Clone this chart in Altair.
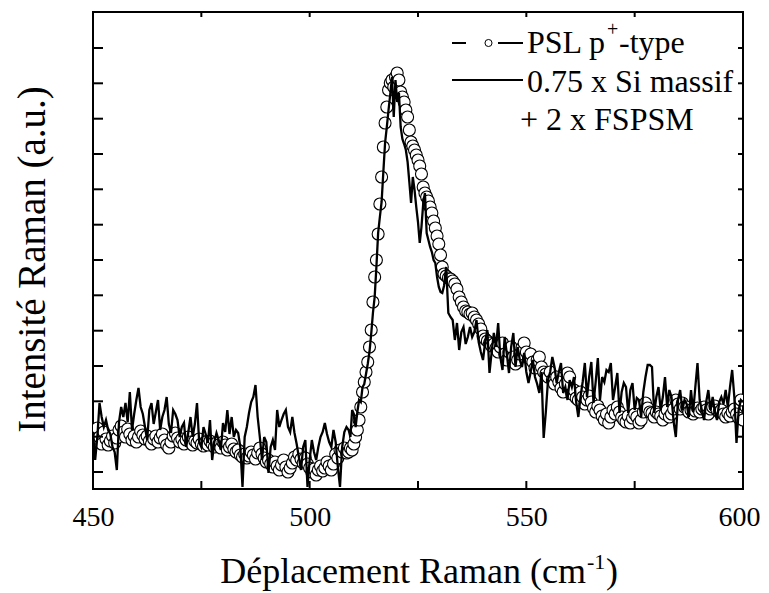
import altair as alt
import pandas as pd

# ---- data (intensity in arbitrary units) ----
# segment A: 450.0 .. 508.5 cm-1, step 0.5 ; segment B: 509.0 .. 531.0, step 0.4 ; segment C: 531.5 .. 600, step 0.5
psl_a = [30, 38, 44, 35, 28, 40, 33, 27, 31, 36,
         29, 34, 42, 46, 40, 35, 43, 38, 32, 36,
         30, 35, 41, 37, 33, 36, 31, 28, 33, 36,
         30, 34, 38, 32, 27, 24, 30, 36, 39, 34,
         30, 33, 28, 32, 35, 30, 27, 31, 29, 33,
         28, 26, 30, 27, 31, 28, 25, 29, 27, 24,
         30, 27, 22, 25, 28, 23, 20, 22, 17, 15,
         18, 14, 16, 20, 17, 13, 19, 24, 18, 14,
         10, 12, 8, 5, 10, 6, 2, 7, 12, 5,
         0, 4, 9, 15, 12, 18, 13, 9, 14, 8,
         4, 0, 3, -3, 2, 6, 1, 4, 10, 6,
         2, 8, 18, 14, 22, 20, 24, 19]
psl_b = [20, 24, 22, 28, 35, 42, 52, 65, 80, 90,
         100, 110, 125, 142, 170, 195, 212, 238, 268, 295,
         325, 349, 365, 382, 389, 392, 385, 395, 399, 392,
         380, 375, 370, 362, 355, 342, 330, 326, 322, 317,
         312, 306, 298, 285, 279, 275, 271, 265, 259, 251,
         244, 236, 228, 217, 205, 198]
psl_c = [196, 194, 193, 191, 188, 183, 175, 170,
         165, 161, 160, 158, 159, 155, 152, 148, 143, 136,
         133, 131, 129, 126, 128, 124, 120, 125, 129, 118,
         112, 120, 125, 115, 108, 112, 118, 124, 129, 120,
         114, 118, 110, 104, 112, 115, 105, 100, 98, 95,
         100, 92, 88, 95, 90, 84, 80, 88, 99, 95,
         78, 82, 74, 72, 80, 75, 68, 72, 76, 70,
         64, 60, 66, 62, 56, 52, 58, 49, 55, 62,
         58, 65, 60, 55, 52, 50, 56, 49, 54, 58,
         55, 49, 52, 60, 69, 64, 60, 59, 55, 60,
         58, 56, 52, 58, 62, 55, 58, 63, 72, 68,
         63, 69, 65, 65, 60, 62, 58, 61, 64, 60,
         63, 65, 62, 58, 63, 65, 66, 62, 60, 62,
         58, 55, 59, 56, 60, 63, 58, 54, 72, 52]

fit_a = [40, 12, 35, 69, 55, 45, 52, 42, 38, 25,
         20, 2, 50, 65, 55, 69, 50, 80, 42, 58,
         72, 84, 65, 58, 45, 32, 62, 69, 48, 60,
         72, 42, 55, 62, 75, 48, 39, 62, 58, 52,
         35, 45, 49, 25, 40, 55, 35, 48, 69, 30,
         25, 45, 38, 29, 52, 12, 30, 39, 32, 22,
         49, 40, 62, 38, 55, 35, 42, 39, 25, -15,
         35, 45, 59, 70, 75, 87, 55, 35, 12, 35,
         30, -1, 25, 32, 22, 62, 45, 52, 58, 62,
         45, 40, 55, 39, 28, 15, 2, 25, 32, -15,
         12, 32, 20, 12, 25, 35, 40, 49, 38, 30,
         25, 42, 30, 5, -15, 25, 40, 45]
fit_b = [42, 35, 62, 58, 45, 60, 72, 70, 85, 88,
         98, 108, 120, 138, 159, 175, 205, 239, 255, 270,
         300, 329, 345, 362, 378, 395, 355, 392, 370, 379,
         345, 333, 328, 322, 310, 290, 269, 295, 282, 265,
         250, 229, 245, 268, 279, 239, 232, 225, 220, 212,
         209, 195, 185, 180, 179, 186]
fit_c = [205, 159, 155, 152, 132, 149, 122, 140,
         145, 128, 135, 145, 135, 140, 152, 130, 120, 112,
         130, 142, 99, 120, 139, 125, 149, 115, 102, 135,
         118, 99, 125, 139, 105, 125, 112, 105, 119, 100,
         89, 100, 112, 95, 88, 79, 100, 34, 60, 92,
         100, 115, 105, 89, 100, 109, 79, 85, 72, 92,
         85, 95, 70, 55, 75, 90, 109, 75, 95, 110,
         69, 90, 114, 72, 95, 90, 102, 100, 109, 72,
         85, 99, 59, 80, 89, 85, 59, 82, 89, 62,
         74, 72, 55, 80, 95, 107, 107, 105, 59, 75,
         85, 62, 75, 95, 65, 82, 75, 50, 35, 72,
         82, 62, 72, 68, 55, 82, 60, 85, 109, 72,
         62, 52, 70, 82, 62, 75, 60, 52, 70, 75,
         68, 82, 65, 85, 102, 75, 29, 62, 72, 70]

x_labels = [450, 500, 550, 600]
x_ticks = [450, 475, 500, 525, 550, 575, 600]
y_ticks = [0, 35.3, 70.7, 106, 141.3, 176.7, 212, 247.3, 282.7, 318, 353.3, 388.7, 424]


def grid(start, step, vals):
    return [round(start + step * i, 2) for i in range(len(vals))]


def frame(a, b, c):
    xs = grid(450.0, 0.5, a) + grid(509.0, 0.4, b) + grid(531.5, 0.5, c)
    return pd.DataFrame({"x": xs, "v": a + b + c})


psl_df = frame(psl_a, psl_b, psl_c)
fit_df = frame(fit_a, fit_b, fit_c)

W, H = 650, 477
FONT = "Liberation Serif"
xscale = alt.Scale(domain=[450, 600], nice=False, zero=False)
yscale = alt.Scale(domain=[-17, 460], nice=False, zero=False)

x_axis = alt.Axis(
    values=x_labels, ticks=False, tickSize=0, domain=False, grid=False,
    labelFont=FONT, labelFontSize=28, labelColor="black",
    labelBaseline="alphabetic", labelPadding=36, labelFlush=False, title=None,
    labelOffset={"condition": {"test": "datum.value == 600", "value": -4}, "value": 0})
y_axis = alt.Axis(
    labels=False, ticks=False, tickSize=0, domain=False, grid=False,
    title="Intensité Raman (a.u.)", titleFont=FONT, titleFontSize=39,
    titleFontWeight="normal", titleColor="black", titleAngle=270,
    titleBaseline="alphabetic", titleAlign="center", titleX=-49, titleY=247)

points = alt.Chart(psl_df).mark_circle(
    size=144, fill="white", stroke="black", strokeWidth=1.1, opacity=1, clip=True
).encode(
    x=alt.X("x:Q", scale=xscale, axis=x_axis),
    y=alt.Y("v:Q", scale=yscale, axis=y_axis),
)

line = alt.Chart(fit_df).mark_line(color="black", strokeWidth=2.3, clip=True).encode(
    x=alt.X("x:Q", scale=xscale, axis=x_axis),
    y=alt.Y("v:Q", scale=yscale, axis=y_axis),
)

xt = pd.DataFrame({"x": x_ticks})
yt = pd.DataFrame({"v": y_ticks})
bottom_ticks = alt.Chart(xt).mark_rule(color="black", strokeWidth=2).encode(
    x=alt.X("x:Q", scale=xscale, axis=x_axis), y=alt.value(H), y2=alt.value(H - 8))
top_ticks = alt.Chart(xt).mark_rule(color="black", strokeWidth=2).encode(
    x=alt.X("x:Q", scale=xscale, axis=x_axis), y=alt.value(0), y2=alt.value(5))
left_ticks = alt.Chart(yt).mark_rule(color="black", strokeWidth=2).encode(
    y=alt.Y("v:Q", scale=yscale, axis=y_axis), x=alt.value(0), x2=alt.value(10))
right_ticks = alt.Chart(yt).mark_rule(color="black", strokeWidth=2).encode(
    y=alt.Y("v:Q", scale=yscale, axis=y_axis), x=alt.value(W), x2=alt.value(W - 5))

one = pd.DataFrame({"a": [0]})


def txt(s, x, y, size=32, align="left"):
    return alt.Chart(one).mark_text(
        text=s, font=FONT, fontSize=size, color="black", fill="black",
        align=align, baseline="alphabetic"
    ).encode(x=alt.value(x), y=alt.value(y))


def seg(x1, x2, y):
    return alt.Chart(one).mark_rule(color="black", strokeWidth=2).encode(
        x=alt.value(x1), x2=alt.value(x2), y=alt.value(y))


leg_circle = alt.Chart(one).mark_circle(
    size=50, fill="white", stroke="black", strokeWidth=1, opacity=1
).encode(x=alt.value(395.5), y=alt.value(31))

legend = [
    seg(359, 373, 31), leg_circle, seg(405, 430, 31),
    txt("PSL p", 434, 41), txt("+", 514, 24, size=20), txt("-type", 526, 41),
    seg(359, 430, 68), txt("0.75 x Si massif", 434, 80),
    txt("+ 2 x FSPSM", 427, 118),
]

xtitle = [
    txt("Déplacement Raman (cm", 493, 571, size=36, align="right"),
    txt("-1", 494, 557, size=22),
    txt(")", 513, 571, size=36),
]

chart = alt.layer(
    points, line, bottom_ticks, top_ticks, left_ticks, right_ticks, *legend, *xtitle
).properties(
    width=W, height=H,
    padding={"left": 85, "top": 4, "right": 18, "bottom": 103},
    autosize=alt.AutoSizeParams(type="none"),
    background="white",
).configure_view(stroke="black", strokeWidth=2)

chart.save("out.html", embed_options={"renderer": "svg", "actions": False})
